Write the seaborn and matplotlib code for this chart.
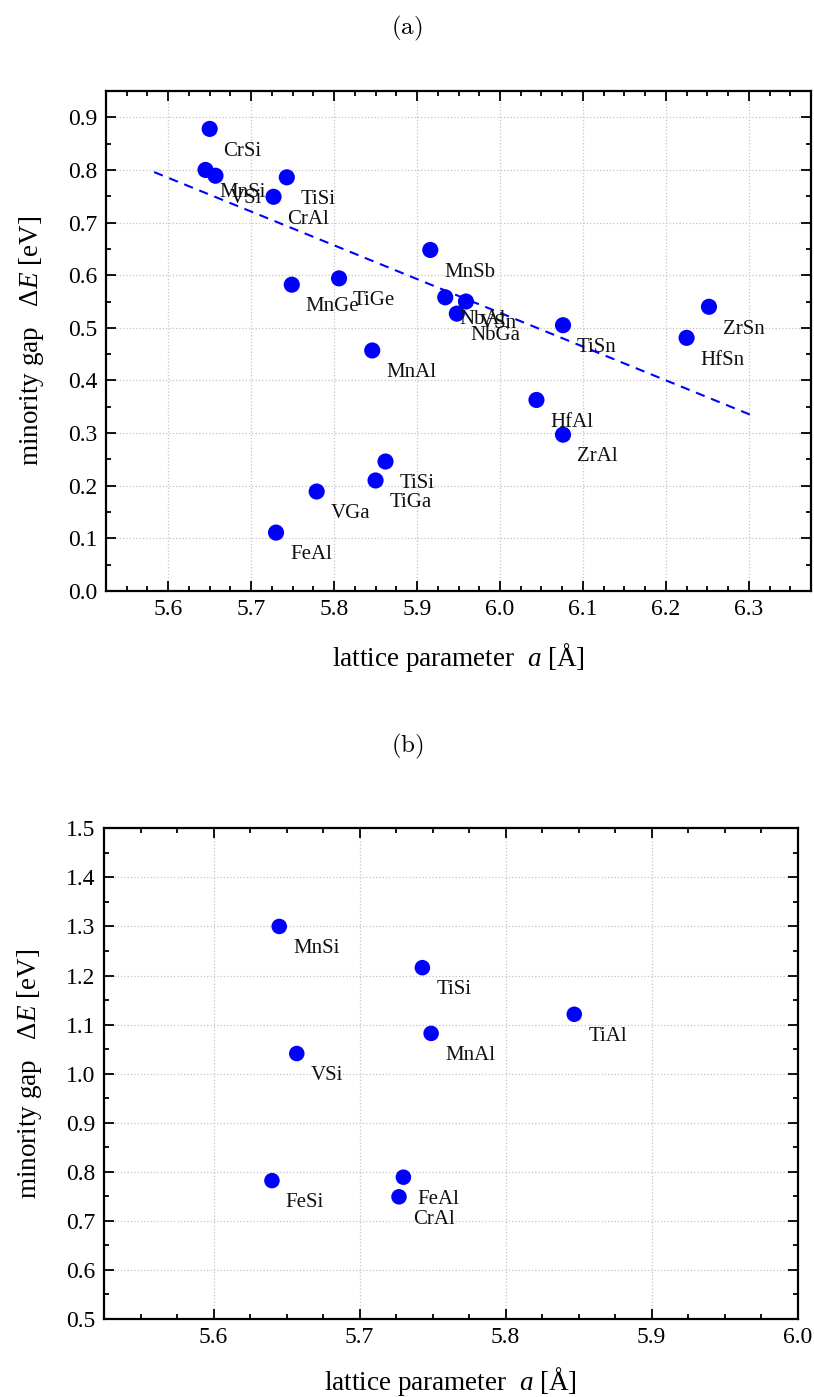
import matplotlib
matplotlib.use("Agg")
import matplotlib.pyplot as plt
from matplotlib.ticker import MultipleLocator, FormatStrFormatter
import seaborn as sns
import pandas as pd

# ---- data: panel (a) ----
a_names = ["CrSi", "MnSi", "VSi", "TiSi", "CrAl", "MnGe", "TiGe", "MnSb",
           "NbAl", "VSn", "NbGa", "MnAl", "TiSn", "HfAl", "ZrAl", "ZrSn",
           "HfSn", "TiSi", "TiGa", "VGa", "FeAl"]
a_lat = [5.650, 5.645, 5.657, 5.743, 5.727, 5.749, 5.806, 5.916,
         5.934, 5.959, 5.948, 5.846, 6.076, 6.044, 6.076, 6.252,
         6.225, 5.862, 5.850, 5.779, 5.730]
a_gap = [0.878, 0.800, 0.789, 0.786, 0.749, 0.582, 0.594, 0.648,
         0.558, 0.550, 0.527, 0.457, 0.505, 0.363, 0.297, 0.540,
         0.481, 0.246, 0.210, 0.189, 0.111]
fit_lat = [5.583, 6.308]
fit_gap = [0.796, 0.331]

# ---- data: panel (b) ----
b_names = ["MnSi", "TiSi", "MnAl", "VSi", "TiAl", "FeSi", "FeAl", "CrAl"]
b_lat = [5.645, 5.743, 5.749, 5.657, 5.847, 5.640, 5.730, 5.727]
b_gap = [1.300, 1.216, 1.082, 1.041, 1.121, 0.782, 0.789, 0.749]

xlabel = r"lattice parameter  $a$ [Å]"
ylabel = r"minority gap   $\mathit{ΔE}$ [eV]"

sns.set_theme(style="ticks")
plt.rcParams["font.family"] = ["Liberation Serif", "DejaVu Serif"]
plt.rcParams["mathtext.fontset"] = "custom"
plt.rcParams["mathtext.rm"] = "Liberation Serif"
plt.rcParams["mathtext.it"] = "Liberation Serif:italic"
plt.rcParams["axes.linewidth"] = 1.6
plt.rcParams["text.color"] = "black"
plt.rcParams["axes.labelcolor"] = "black"
plt.rcParams["xtick.color"] = "black"
plt.rcParams["ytick.color"] = "black"
plt.rcParams["xtick.labelcolor"] = "black"
plt.rcParams["ytick.labelcolor"] = "black"

W, H = 814, 1397
fig = plt.figure(figsize=(W / 100, H / 100), dpi=100)
ax1 = fig.add_axes([106 / W, (H - 591) / H, (811 - 106) / W, (591 - 91) / H])
ax2 = fig.add_axes([104 / W, (H - 1319) / H, (797.7 - 104) / W, (1319 - 828.3) / H])

dfa = pd.DataFrame({"lat": a_lat, "gap": a_gap, "name": a_names})
dfb = pd.DataFrame({"lat": b_lat, "gap": b_gap, "name": b_names})
dff = pd.DataFrame({"lat": fit_lat, "gap": fit_gap})

blue = "#0000ff"

sns.lineplot(data=dff, x="lat", y="gap", ax=ax1, color=blue, lw=1.5,
             dashes=False, zorder=2)
ax1.lines[0].set_dashes((4.5, 3.3))
sns.scatterplot(data=dfa, x="lat", y="gap", ax=ax1, color=blue, s=135,
                edgecolor="none", zorder=3)
sns.scatterplot(data=dfb, x="lat", y="gap", ax=ax2, color=blue, s=125,
                edgecolor="none", zorder=3)

for df, ax in ((dfa, ax1), (dfb, ax2)):
    for _, r in df.iterrows():
        ax.annotate(r["name"], (r["lat"], r["gap"]), xytext=(10, -19.3),
                    textcoords="offset points", ha="left", va="baseline",
                    fontsize=15, color="#111111", zorder=4)

ax1.set_xlim(5.525, 6.375)
ax1.set_ylim(0.0, 0.95)
ax2.set_xlim(5.525, 6.0)
ax2.set_ylim(0.5, 1.5)

for ax in (ax1, ax2):
    ax.xaxis.set_major_locator(MultipleLocator(0.1))
    ax.xaxis.set_minor_locator(MultipleLocator(0.025))
    ax.yaxis.set_major_locator(MultipleLocator(0.1))
    ax.yaxis.set_minor_locator(MultipleLocator(0.05))
    ax.grid(True, which="major", color="#c4c4c4", linestyle=":", linewidth=0.9, zorder=0)
    ax.set_axisbelow(True)
    ax.tick_params(which="both", direction="in", top=True, right=True,
                   width=1.3, color="black", labelsize=17, pad=6)
    ax.tick_params(which="major", length=7)
    ax.tick_params(which="minor", length=3.5)
    ax.xaxis.set_major_formatter(FormatStrFormatter("%.1f"))
    ax.yaxis.set_major_formatter(FormatStrFormatter("%.1f"))
    for sp in ax.spines.values():
        sp.set_color("black")
        sp.set_linewidth(1.6)
    ax.set_ylabel(ylabel, fontsize=19.5, labelpad=16)

ax1.set_xlabel(xlabel, fontsize=19.5, labelpad=15)
ax2.set_xlabel(xlabel, fontsize=19.5, labelpad=12)

fig.text(0.5, 1 - 28 / H, r"$\mathrm{(a)}$", math_fontfamily="cm",
         ha="center", va="center", fontsize=18)
fig.text(0.5, 1 - 746.7 / H, r"$\mathrm{(b)}$", math_fontfamily="cm",
         ha="center", va="center", fontsize=18)

fig.savefig("out.png", dpi=100)
